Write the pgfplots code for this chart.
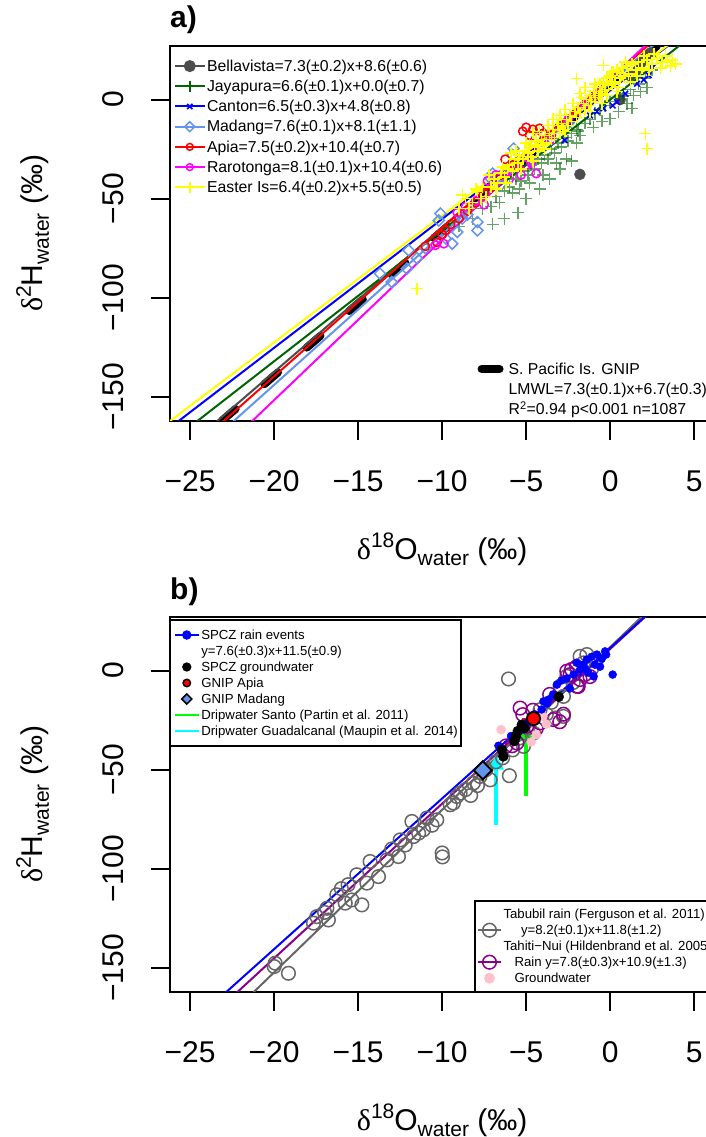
\documentclass[border=0pt]{standalone}
\usepackage{fontspec}
\setmainfont{Liberation Sans}
\newfontfamily\symfont{Liberation Serif}
\usepackage{pgfplots}
\pgfplotsset{compat=1.18}
\usetikzlibrary{arrows.meta}

% station colours
\definecolor{bella}{HTML}{4D4D4D}
\definecolor{jaya}{HTML}{006400}
\definecolor{canton}{HTML}{0000FF}
\definecolor{madang}{HTML}{6495ED}
\definecolor{apia}{HTML}{FF0000}
\definecolor{raro}{HTML}{FF00FF}
\definecolor{easter}{HTML}{FFFF00}
\definecolor{tabubil}{HTML}{666666}
\definecolor{tahiti}{HTML}{8B008B}
\definecolor{gwpink}{HTML}{FFC0CB}
\definecolor{santo}{HTML}{00FF00}
\definecolor{guadal}{HTML}{00FFFF}

\newcommand{\labfont}{\fontsize{30}{36}\selectfont}
\newcommand{\supfont}{\fontsize{21}{21}\selectfont}
\newcommand{\isolabel}[2]{{\symfont δ}\raisebox{12pt}{\supfont #1}#2\raisebox{-6pt}{\supfont water}\ (‰)}

\pgfplotsset{
  panel/.style={
    scale only axis, width=544.3pt, height=374.6pt,
    xmin=-26.2, xmax=6.2, ymin=-162, ymax=27,
    axis line style={line width=2pt},
    tick style={line width=2pt, black},
    tick align=outside, major tick length=19pt,
    xtick pos=bottom, ytick pos=left,
    xtick={-25,-20,-15,-10,-5,0,5},
    xticklabels={−25,−20,−15,−10,−5,0,5},
    ytick={-150,-100,-50,0},
    yticklabels={−150,−100,−50,0},
    tick label style={font=\labfont, inner sep=0pt},
    xticklabel style={anchor=base},
    yticklabel style={rotate=90, anchor=base},
    xticklabel shift=52pt, yticklabel shift=27.7pt,
    xlabel={\isolabel{18}{O}},
    ylabel={\isolabel{2}{H}},
    xlabel style={at={(axis description cs:0.5,0)}, anchor=base, yshift=-138.3pt, inner sep=0pt, font=\labfont},
    ylabel style={at={(axis description cs:-0.2337,0.5)}, anchor=base, inner sep=0pt, font=\labfont},
    title style={at={(axis description cs:0,1)}, anchor=base west, inner sep=0pt, font=\bfseries\fontsize{30}{36}\selectfont},
  },
  overlaypanel/.style={
    scale only axis, width=544.3pt, height=374.6pt,
    xmin=-26.2, xmax=6.2, ymin=-162, ymax=27, hide axis,
  },
  fitline/.style={line width=2pt, forget plot},
}

\begin{document}
\begin{tikzpicture}[x=1pt,y=1pt]
\useasboundingbox (0,0) rectangle (706,-1137);

% ---------------- panel a: GNIP stations ----------------
\begin{axis}[panel, at={(170pt,-420.7pt)}, anchor=south west,
  title={a)}, title style={yshift=12.8pt},
  legend style={draw=none, fill=none, at={(axis description cs:0.0074,0.9736)}, anchor=north west,
    inner sep=0pt, outer sep=0pt, font=\fontsize{15.8}{18}\selectfont, row sep=0pt, column sep=1.5pt,
    nodes={inner sep=0pt, text height=15.3pt, text depth=4.9pt}},
  legend cell align=left,
  legend image code/.code={\draw[mark repeat=2,mark phase=2] plot coordinates {(0pt,0pt) (14.75pt,0pt) (29.5pt,0pt)};},
]
% S. Pacific GNIP LMWL
\addplot[black, line width=8pt, line cap=round, dash pattern=on 18pt off 38pt, forget plot]
  coordinates {(-23.11,-162) (2.781,27)};

% Bellavista
\addplot[only marks, mark=*, mark size=5.5pt, color=bella, forget plot]
  coordinates {(2.2,22) (2.0,20.5) (1.8,18) (0.6,0) (-1.8,-37.7) (1.5,14) (2.4,23.5) (1.2,12)};
% Jayapura
\addplot[only marks, mark=+, mark size=6pt, color=jaya, opacity=0.6, mark options={line width=1.5pt}, forget plot]
  coordinates {(-9.0,-64) (-8.2,-60) (-7.6,-55) (-7.1,-54) (-7.0,-63) (-6.8,-49) (-6.6,-52) (-6.3,-46)
  (-6.3,-60) (-6.0,-44) (-6.0,-38) (-5.8,-47) (-5.6,-40) (-5.5,-57) (-5.4,-45) (-5.3,-41) (-5.1,-36)
  (-5.0,-50) (-4.9,-38) (-4.8,-42) (-4.7,-33) (-4.5,-35) (-4.3,-30) (-4.2,-45) (-4.1,-32) (-4.0,-38)
  (-3.9,-28) (-3.7,-30) (-3.6,-40) (-3.5,-25) (-3.3,-27) (-3.2,-32) (-3.1,-22) (-3.0,-35) (-2.9,-24)
  (-2.7,-19) (-2.6,-30) (-2.5,-21) (-2.3,-17) (-2.3,-31) (-2.0,-15) (-2.0,-22) (-1.9,-15.8) (-1.8,-18)
  (-1.5,-12) (-1.2,-10) (-1.0,-14) (-0.9,-7) (-0.6,-5) (-0.5,-11) (-0.3,-3) (0.0,-9.6) (0.0,-1) (0.4,1)
  (0.5,-6) (0.77,1.8) (0.8,3) (1.0,-2) (1.2,5) (1.3,-4.4) (1.4,2.2) (1.7,8) (1.8,4) (2.1,11) (2.2,6) (2.5,15)};
% Canton
\addplot[only marks, mark=x, mark size=4pt, color=canton, mark options={line width=1.5pt}, forget plot]
  coordinates {(2.3,12.3) (2.5,16) (0.4,-1.2) (-0.4,-4.4) (-2.7,-20.5) (0.9,3) (1.6,8) (2.0,10)
  (-1.2,-8) (0.15,-3) (-0.8,-6)};
% Madang
\addplot[only marks, mark=square, mark size=3.9pt, color=madang, mark options={rotate=45, line width=1.5pt}, forget plot]
  coordinates {(-13.7,-87.8) (-13.0,-92) (-12.1,-85.3) (-12.0,-76) (-11.5,-80) (-11.0,-75) (-10.2,-61)
  (-10.1,-57.5) (-9.8,-70) (-9.4,-72.7) (-9.1,-66.8) (-8.8,-60) (-8.5,-58) (-7.9,-61.8) (-7.9,-66)
  (-7.1,-40) (-7.0,-37.3) (-6.5,-43) (-6.0,-35) (-5.8,-28) (-5.75,-24.7) (-4.8,-30) (-3.5,-20) (-2.5,-12)};
% Apia
\addplot[only marks, mark=o, mark size=4.2pt, color=apia, mark options={line width=1.5pt}, forget plot]
  coordinates {(-11.0,-74) (-10.3,-72) (-10.0,-68) (-9.8,-66) (-9.5,-63) (-9.0,-60) (-8.5,-56) (-8.0,-52)
  (-7.5,-47) (-7.0,-44) (-6.5,-38) (-6.25,-30.1) (-5.8,-33) (-5.2,-16) (-5.0,-14) (-4.8,-18) (-4.6,-15)
  (-4.4,-19) (-4.2,-14.5) (-4.0,-17) (-3.5,-18) (-3.0,-13) (-2.0,-6) (-1.0,2)};
% Rarotonga
\addplot[only marks, mark=o, mark size=4.2pt, color=raro, mark options={line width=1.5pt}, forget plot]
  coordinates {(-10.4,-73.5) (-9.9,-72.7) (-9.1,-57) (-8.6,-54) (-8.0,-51) (-7.5,-53) (-7.3,-41) (-6.8,-38)
  (-6.2,-36) (-6.0,-40) (-5.6,-34) (-5.3,-38) (-5.0,-33) (-4.7,-32) (-4.4,-37.3) (-3.5,-20) (-2.5,-10)
  (-1.5,-2) (-0.5,5) (0.5,13)};
% Easter Island
\addplot[only marks, mark=+, mark size=6pt, color=easter, mark options={line width=1.5pt}, forget plot]
  coordinates {(-11.5,-95.4) (-9.0,-55) (-8.8,-48) (-8.6,-50) (-8.4,-55) (-8.2,-52) (-8.0,-45) (-7.9,-46)
  (-7.7,-50) (-7.6,-44) (-7.4,-49) (-7.2,-38) (-7.1,-44) (-6.9,-40) (-6.8,-45) (-6.7,-42) (-6.5,-37)
  (-6.4,-34) (-6.3,-39) (-6.2,-42) (-6.1,-35) (-6.0,-33) (-5.9,-27) (-5.8,-36) (-5.7,-30) (-5.6,-26)
  (-5.5,-32) (-5.4,-28) (-5.3,-35) (-5.2,-30) (-5.1,-26) (-5.0,-22) (-4.9,-27) (-4.8,-23) (-4.7,-29)
  (-4.6,-17) (-4.6,-31) (-4.5,-24) (-4.4,-21) (-4.3,-26) (-4.2,-16) (-4.1,-20) (-4.0,-23) (-3.9,-18)
  (-3.9,-25) (-3.8,-22) (-3.7,-13) (-3.6,-17) (-3.5,-20) (-3.4,-15) (-3.4,-10) (-3.3,-19) (-3.2,-10)
  (-3.1,-13) (-3.0,-17) (-3.0,-8) (-2.9,-12) (-2.8,-15) (-2.7,-5) (-2.7,-16) (-2.6,-10) (-2.5,-13)
  (-2.4,-8) (-2.3,-11) (-2.2,-2) (-2.1,-6) (-2.0,10.6) (-2.0,-9) (-1.9,-4) (-1.8,-7) (-1.8,3) (-1.7,1)
  (-1.6,-2) (-1.5,-5) (-1.5,6) (-1.4,0) (-1.3,-3) (-1.2,2) (-1.2,-6) (-1.1,-1) (-1.0,4) (-0.9,1) (-0.9,8)
  (-0.8,6) (-0.7,2) (-0.6,8) (-0.6,3) (-0.5,4) (-0.5,-2) (-0.4,17.3) (-0.4,9) (-0.3,5) (-0.2,11) (-0.2,2)
  (-0.1,7) (0.0,12) (0.1,8) (0.1,14) (0.2,14) (0.3,9) (0.4,15) (0.4,4) (0.5,6) (0.6,11) (0.7,16) (0.8,12)
  (0.9,19) (1.0,17) (1.1,13) (1.2,9) (1.3,18) (1.5,15) (1.6,12) (1.7,19) (1.9,16) (2.0,22) (2.1,-17.2)
  (2.2,-24.7) (2.2,20) (2.3,15) (2.5,18) (2.6,23) (2.8,21) (3.0,16) (3.1,19) (3.3,22) (3.4,19) (3.6,17)
  (3.7,20) (3.9,18)};

% station regression lines
\addplot[fitline, bella]  coordinates {(-27,-188.5) (7,59.7)};
\addplot[fitline, jaya]   coordinates {(-27,-178.2) (7,46.2)};
\addplot[fitline, canton] coordinates {(-27,-170.7) (7,50.3)};
\addplot[fitline, madang] coordinates {(-27,-197.1) (7,61.3)};
\addplot[fitline, apia]   coordinates {(-27,-192.1) (7,62.9)};
\addplot[fitline, raro]   coordinates {(-27,-208.3) (7,67.1)};
\addplot[fitline, easter] coordinates {(-27,-167.3) (7,50.3)};

\addlegendimage{bella, line width=2pt, mark=*, mark size=5pt}
\addlegendentry{Bellavista=7.3(±0.2)x+8.6(±0.6)}
\addlegendimage{jaya, line width=2pt, mark=+, mark size=5.7pt, mark options={line width=1.5pt}}
\addlegendentry{Jayapura=6.6(±0.1)x+0.0(±0.7)}
\addlegendimage{canton, line width=2pt, mark=x, mark size=3.7pt, mark options={line width=1.5pt}}
\addlegendentry{Canton=6.5(±0.3)x+4.8(±0.8)}
\addlegendimage{madang, line width=2pt, mark=square, mark size=3.5pt, mark options={rotate=45, line width=1.5pt, fill=white}}
\addlegendentry{Madang=7.6(±0.1)x+8.1(±1.1)}
\addlegendimage{apia, line width=2pt, mark=o, mark size=3.4pt, mark options={line width=1.5pt, fill=white}}
\addlegendentry{Apia=7.5(±0.2)x+10.4(±0.7)}
\addlegendimage{raro, line width=2pt, mark=o, mark size=3.4pt, mark options={line width=1.5pt, fill=white}}
\addlegendentry{Rarotonga=8.1(±0.1)x+10.4(±0.6)}
\addlegendimage{easter, line width=2pt, mark=+, mark size=5.7pt, mark options={line width=1.5pt}}
\addlegendentry{Easter Is=6.4(±0.2)x+5.5(±0.5)}
\end{axis}

% panel a: regional LMWL key
\begin{axis}[overlaypanel, at={(170pt,-420.7pt)}, anchor=south west,
  legend style={draw=none, fill=none, at={(axis description cs:0.5651,0.165)}, anchor=north west,
    inner sep=0pt, outer sep=0pt, font=\fontsize{15.8}{18}\selectfont, row sep=0pt, column sep=5pt,
    nodes={inner sep=0pt, text height=15.3pt, text depth=4.9pt}},
  legend cell align=left,
  legend image code/.code={\draw (0pt,0pt) -- (18pt,0pt);},
]
\addlegendimage{black, line width=8pt, line cap=round}
\addlegendentry{S. Pacific Is. GNIP}
\addlegendimage{empty legend}
\addlegendentry{LMWL=7.3(±0.1)x+6.7(±0.3)}
\addlegendimage{empty legend}
\addlegendentry{R\textsuperscript{2}=0.94 p<0.001 n=1087}
\end{axis}

% ---------------- panel b: SPCZ waters ----------------
\begin{axis}[panel, at={(170pt,-991.7pt)}, anchor=south west,
  title={b)}, title style={yshift=12pt},
  legend style={draw=black, line width=1.8pt, fill=white, at={(axis description cs:0.0009,0.9923)}, anchor=north west,
    inner xsep=3.5pt, inner ysep=7pt, outer sep=0pt, font=\fontsize{13.2}{16}\selectfont, row sep=0pt, column sep=1.7pt,
    nodes={inner sep=0pt, text height=12.4pt, text depth=3.6pt}},
  legend cell align=left,
  legend image code/.code={\draw[mark repeat=2,mark phase=2] plot coordinates {(0pt,0pt) (11.8pt,0pt) (23.6pt,0pt)};},
]
% Tabubil rain
\addplot[only marks, mark=o, mark size=6.8pt, color=tabubil, mark options={line width=1.5pt}, forget plot]
  coordinates {(-19.15,-152.7) (-19.94,-147.6) (-20.0,-149.3) (-17.66,-127.4) (-17.46,-124.1) (-17.0,-122)
  (-16.77,-125.8) (-16.86,-119.9) (-16.27,-113.1) (-16.0,-110) (-15.77,-117.3) (-15.6,-108) (-15.38,-115.7)
  (-14.78,-118.2) (-15.08,-103) (-14.29,-96.3) (-14.48,-107.2) (-13.79,-103.9) (-13.29,-95.5) (-13.0,-90)
  (-12.6,-93.8) (-12.5,-85.4) (-12.2,-88) (-11.8,-76.1) (-11.7,-83.7) (-11.4,-82) (-11.11,-80.3)
  (-10.91,-74.4) (-10.6,-78) (-10.32,-75.3) (-10.0,-92) (-9.98,-94) (-9.52,-67.7) (-9.33,-66.8)
  (-9.13,-63.5) (-8.93,-61.8) (-8.6,-60) (-8.3,-63) (-8.14,-56.7) (-7.9,-58) (-7.74,-53.4) (-7.4,-50)
  (-7.14,-55.1) (-6.8,-46) (-6.4,-44) (-6.05,-4.2) (-6.0,-53) (-5.8,-40) (-5.4,-34) (-5.16,-38.2)
  (-4.9,-29) (-4.56,-31.5) (-4.17,-19.7) (-3.8,-22) (-3.5,-16) (-3.27,-23.9) (-2.98,-7.9) (-2.78,-23.1)
  (-2.78,-13) (-2.58,-2.9) (-2.2,-6) (-1.79,7.2) (-1.59,3.9) (-1.39,8.1) (-1.1,1) (-0.79,5.6)};
\addplot[fitline, tabubil] coordinates {(-27,-209.6) (7,69.2)};
% Tahiti-Nui rain
\addplot[only marks, mark=o, mark size=6.8pt, color=tahiti, mark options={line width=1.5pt}, forget plot]
  coordinates {(-6.2,-38) (-5.83,-37.9) (-5.55,-36.5) (-5.36,-18.9) (-5.2,-22.2) (-4.96,-28.1) (-4.6,-20)
  (-4.4,-29.3) (-4.17,-26.4) (-3.6,-12) (-3.37,-24.7) (-3.0,-25.8) (-2.78,-22) (-2.58,-0.3) (-2.38,-2)
  (-2.3,0.6) (-2.0,2) (-1.98,-7.9) (-1.9,-8) (-1.79,-4.5) (-1.5,-2) (-1.2,-3)};
\addplot[fitline, tahiti] coordinates {(-27,-199.7) (7,65.5)};
% Tahiti-Nui groundwater
\addplot[only marks, mark=*, mark size=4.5pt, color=gwpink, forget plot]
  coordinates {(-6.49,-29.8) (-4.7,-36) (-4.4,-32.3) (-4.0,-23.1) (-3.8,-27)};
% SPCZ rain events
\addplot[only marks, mark=*, mark size=4pt, color=canton, forget plot]
  coordinates {(-6.65,-37.9) (-5.9,-33) (-5.3,-30) (-4.9,-26) (-4.5,-22) (-4.08,-19.6) (-3.97,-15.5)
  (-3.76,-16.6) (-3.67,-14.6) (-3.4,-12) (-3.17,-7.1) (-2.9,-5) (-2.6,-4) (-2.4,-9) (-2.18,-2) (-2.0,4)
  (-1.79,0.5) (-1.6,3) (-1.5,1) (-1.39,5.6) (-1.3,-1) (-1.1,7) (-0.99,-2.9) (-0.9,3) (-0.79,8.1)
  (-0.6,2) (-0.5,6) (-0.3,9.7) (-0.24,8.1) (0.15,-2)};
\addplot[fitline, canton] coordinates {(-27,-193.7) (7,64.7)};
% SPCZ groundwater
\addplot[only marks, mark=*, mark size=5pt, color=black, forget plot]
  coordinates {(-6.45,-39.9) (-6.36,-43.3) (-5.7,-35.5) (-5.6,-33) (-5.5,-30.5) (-5.26,-27.3) (-5.1,-29) (-3.06,-13.2)};
% GNIP Apia mean
\addplot[only marks, mark=*, mark size=6.6pt, mark options={fill=apia, draw=black, line width=1.8pt}, forget plot,
  error bars/.cd, x dir=both, x explicit, y dir=both, y explicit, error mark=none,
  error bar style={apia, line width=2pt}]
  coordinates {(-4.56,-24.2) +- (0.7,5.5)};
% GNIP Madang mean
\addplot[only marks, mark=square*, mark size=6.4pt, mark options={rotate=45, fill=madang, draw=black, line width=2pt}, forget plot]
  coordinates {(-7.58,-50.3)};
% dripwater values
\addplot[guadal, line width=4pt, -{Triangle[length=15pt,width=15pt]}, forget plot]
  coordinates {(-6.79,-77.8) (-6.79,-42.4)};
\addplot[santo, line width=4pt, -{Triangle[length=15pt,width=15pt]}, forget plot]
  coordinates {(-5.0,-63.5) (-5.0,-27.8)};

\addlegendimage{canton, line width=2pt, mark=*, mark size=3.7pt}
\addlegendentry{SPCZ rain events}
\addlegendimage{empty legend}
\addlegendentry{y=7.6(±0.3)x+11.5(±0.9)}
\addlegendimage{only marks, black, mark=*, mark size=3.7pt}
\addlegendentry{SPCZ groundwater}
\addlegendimage{only marks, mark=*, mark size=3.7pt, mark options={fill=apia, draw=black, line width=1.5pt}}
\addlegendentry{GNIP Apia}
\addlegendimage{only marks, mark=square*, mark size=3.6pt, mark options={rotate=45, fill=madang, draw=black, line width=1.5pt}}
\addlegendentry{GNIP Madang}
\addlegendimage{santo, line width=2pt}
\addlegendentry{Dripwater Santo (Partin et al. 2011)}
\addlegendimage{guadal, line width=2pt}
\addlegendentry{Dripwater Guadalcanal (Maupin et al. 2014)}
\end{axis}

% panel b: literature key
\begin{axis}[overlaypanel, at={(170pt,-991.7pt)}, anchor=south west,
  legend style={draw=black, line width=1.8pt, fill=white, at={(axis description cs:0.5596,0)}, anchor=south west,
    inner xsep=2.4pt, inner ysep=5.5pt, outer sep=0pt, font=\fontsize{13.2}{16}\selectfont, row sep=0pt, column sep=1.5pt,
    nodes={inner sep=0pt, text height=12.4pt, text depth=3.6pt}},
  legend cell align=left,
  legend image code/.code={\draw[mark repeat=2,mark phase=2] plot coordinates {(0pt,0pt) (11.5pt,0pt) (23pt,0pt)};},
]
\addlegendimage{empty legend}
\addlegendentry{Tabubil rain (Ferguson et al. 2011)}
\addlegendimage{tabubil, line width=2pt, mark=o, mark size=6.8pt, mark options={line width=1.5pt}}
\addlegendentry{\hspace*{17.5pt}y=8.2(±0.1)x+11.8(±1.2)}
\addlegendimage{empty legend}
\addlegendentry{Tahiti−Nui (Hildenbrand et al. 2005)}
\addlegendimage{tahiti, line width=2pt, mark=o, mark size=6.8pt, mark options={line width=1.5pt}}
\addlegendentry{\hspace*{11pt}Rain y=7.8(±0.3)x+10.9(±1.3)}
\addlegendimage{only marks, gwpink, mark=*, mark size=4.5pt}
\addlegendentry{\hspace*{11pt}Groundwater}
\end{axis}
\end{tikzpicture}
\end{document}
